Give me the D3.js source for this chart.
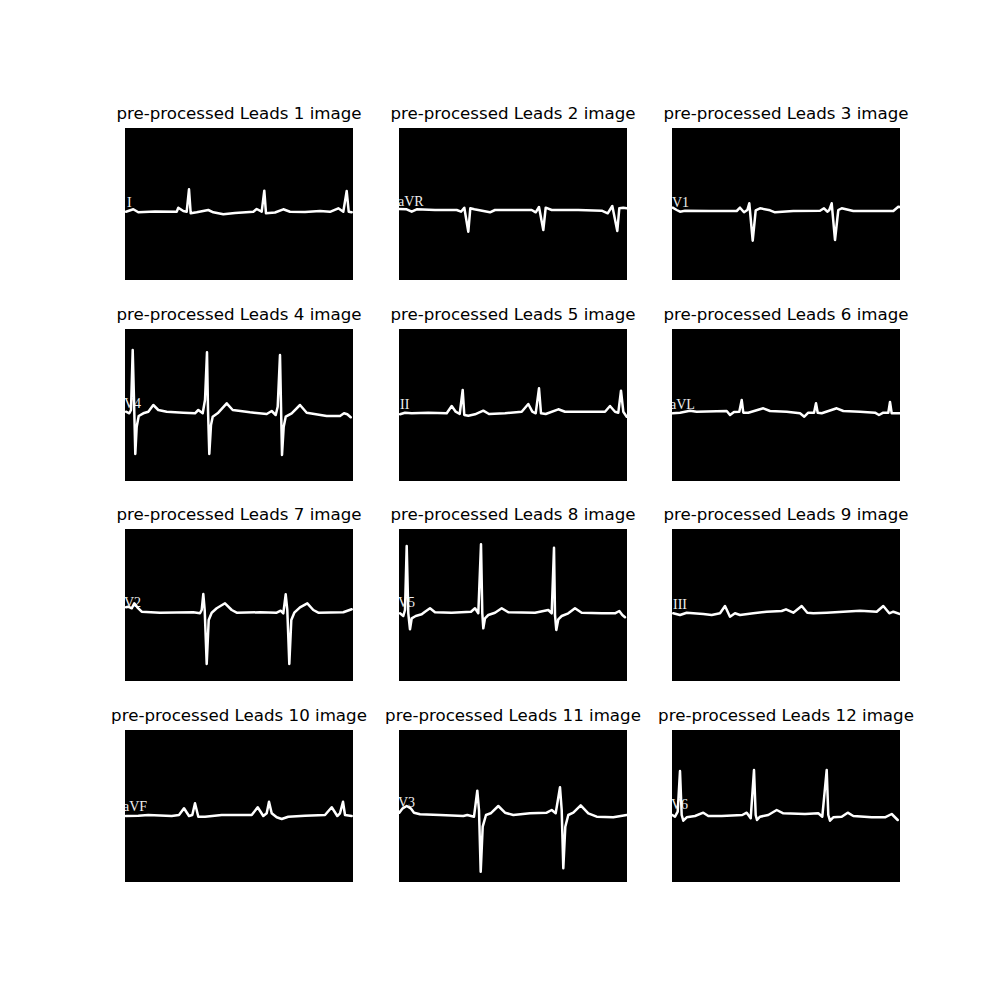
<!DOCTYPE html>
<html>
<head>
<meta charset="utf-8">
<script src="https://cdn.jsdelivr.net/npm/d3@7"></script>
<style>
  html, body { margin: 0; padding: 0; background: #fff; }
  svg { display: block; }
</style>
</head>
<body>
<svg id="chart" width="1000" height="1000"></svg>
<script>
// Panel titles and the lead names printed inside each pre-processed image
const titles = d3.range(1, 13).map(i => `pre-processed Leads ${i} image`);
const leadNames = ["I", "aVR", "V1", "V4", "II", "aVL", "V2", "V5", "III", "aVF", "V3", "V6"];
// label anchor inside each image (image column, image row)
const labelPos = [[2,79],[-1,78],[0,79],[-1,79],[1,80],[-2,80],[-1,78],[-1,78],[1,80],[-2,81],[-1,77],[-1,79]];

// Traced waveforms: [image column, image row] in a 228 x 152 image frame
const lead1 = [[1,83.7],[8.3,81.3],[13.3,84.3],[30,83.5],[51.7,83.7],[53.3,79.7],[58.3,83],[61.7,83.7],[64,61.3],[65.7,85.3],[71.7,84.3],[83.3,82],[88.3,84.3],[98.3,86.3],[110,85],[128.3,83.7],[131.7,81],[136.7,83.7],[139.3,62.7],[141,85.3],[150,84.5],[158.3,81.3],[165,83.7],[180,84],[195,83],[205,83.8],[213.3,80.3],[218.3,83.7],[221.7,63],[223.7,83.7],[226.7,84.3]];
const lead2 = [[0,81],[7.7,81.3],[12.7,83.7],[17.7,81.3],[36,82],[57.7,82],[62,83.7],[65.3,79.7],[69.3,103.7],[71.3,80.3],[75.3,81.3],[91,84.3],[96,82],[132.7,82],[136.7,84.3],[140,79],[144.3,102],[146.7,79.7],[152.7,82],[179.3,82],[202.7,82.7],[208.7,85.3],[213.3,78],[218.3,103],[220.3,80.3],[224.3,79.7],[227.7,80.3]];
const lead3 = [[0.7,79.7],[4.7,82],[8,83.7],[13,82.7],[38,83],[64.7,83],[68,79.7],[72,84.3],[75.3,82],[77.3,75.3],[80.7,112.7],[83.7,82.3],[88,80.3],[98,82.3],[103,84.3],[121.3,83],[148,82.7],[152,80.3],[155.3,83.7],[157.3,82],[159.7,75.3],[163,112],[166.3,82],[169.7,80.3],[181.3,83],[204.7,83],[221.3,83],[226.3,78.7],[228,79]];
const lead4 = [[1,82.7],[4.3,84.3],[6,81],[7.7,21],[9,71],[10.3,125],[11.7,97.7],[13.7,87],[18.3,84.3],[23.3,82.7],[28.3,76],[33.3,81],[41.7,82.7],[58.3,83.7],[70,84.3],[73.3,81],[77.7,84.3],[80,71],[82,23.3],[83,81],[84.3,125],[86,96],[87.7,87.7],[93.3,83.7],[101.7,74.3],[107.7,81],[125,83.3],[141.7,85],[146.7,82],[150.7,86],[152.7,77.7],[155,26],[156.3,91],[157,126],[158.7,97.7],[160.7,87.7],[166.7,84.3],[175,76],[181.7,83.7],[201.7,87],[215,87],[219,84.3],[222.3,85.3],[225.7,88.3]];
const lead5 = [[1,85.3],[6,83.7],[12.7,84.3],[29.3,83.7],[47.7,84.3],[52.7,77],[56.7,82.7],[60.7,85],[63.7,61],[65.3,86],[69.3,86.7],[76,85.3],[84.3,81.7],[90,85],[106,84.3],[122.7,82.7],[129.3,75],[133.3,82.7],[136.7,84.3],[140,59.3],[142,84.3],[146.7,85],[159.3,80.3],[166,82.7],[186,82.7],[206,82.7],[211,77],[216,82.7],[219.3,83.7],[222,61.7],[224.3,82.7],[227.7,87.7]];
const lead6 = [[0.7,84.3],[8,83.7],[18,81.7],[24.7,82.7],[54.7,82],[58,86],[62,83],[67.3,82.7],[69.7,71],[71.3,83.7],[76.3,83.7],[91.3,79.3],[98,82],[114.7,82.7],[128,84.3],[132.3,87.7],[136.3,83.7],[142,83.7],[144,74.3],[145.7,83.7],[149.7,84.3],[164.7,79.3],[171.3,82],[188,82.7],[203,83.7],[207,86],[211.3,83.7],[216.3,83.7],[218,73],[219.7,84.3],[228,84.3]];
const lead7 = [[1,78.3],[3.3,77.7],[6.7,79.3],[9.3,74.3],[12.3,78.3],[16.7,82.7],[35,83.7],[68.3,83.3],[75,84.3],[76.7,81],[78.3,65],[79.7,81],[81.7,135],[83.7,91],[86.7,83.7],[91.7,79.3],[100,74.3],[106.7,81],[111.7,83.7],[135,83.3],[151.7,83.7],[155.7,81.7],[158.3,84.3],[160.7,65.3],[162.3,81],[164.3,135],[166.3,91],[169.3,83.7],[175,78.3],[182.3,74.3],[188.3,81],[193.3,83.7],[218.3,83.3],[226.7,80.3]];
const lead8 = [[1,84.3],[4.3,87],[6,81],[7.7,17],[9.3,84.3],[11,100.3],[12.7,89.3],[16.7,87],[22.7,85.3],[26,82.7],[31,79.3],[36,83.3],[52.7,83.7],[72,82.7],[76,79.3],[79.3,84.3],[82,15.3],[83.3,84.3],[84.3,99.3],[86,89.3],[89.3,86],[96,83.7],[102.7,79.3],[109.3,83.3],[136,83.7],[149.3,81],[152.7,84.3],[155,18.7],[156,86],[157.3,101],[159.3,90.3],[162.7,87],[169.3,84.3],[176,79.3],[182.7,83.7],[202.7,84.3],[216,84.3],[220.3,82],[223.3,86],[226,88.3]];
const lead9 = [[1.3,84.3],[8,86],[14.7,83.7],[21.3,84.3],[31.3,85],[39.7,86],[48,84.3],[53,77],[58,87.7],[63,84.3],[68,86],[81.3,84.3],[94.7,82.7],[109.7,82],[114,80.3],[121.3,83.7],[129.7,77],[135.3,83.7],[141.3,84.3],[154.7,83.7],[171.3,82.7],[188,81.7],[204.7,82.7],[211.3,77],[217.3,84.3],[221.3,82.7],[228,85]];
const lead10 = [[0.7,86],[13.3,85.7],[23.3,85],[46.7,86],[54,85],[59,78.3],[64,86],[67.3,85],[70,73.3],[73.3,86.7],[80,86.7],[96.7,85],[126.7,85],[132.7,77.3],[138.3,86],[141.7,83.3],[144,71.7],[146.7,83.3],[151.7,87.3],[156.7,89],[163.3,86.7],[180,85.7],[200,85],[206.7,77.3],[212.3,86],[215,83.3],[218,71.7],[220,85],[226.7,86]];
const lead11 = [[0.3,82.7],[3.7,78.3],[7.7,76],[11.7,78.3],[15,82.7],[21,84.3],[41,85],[64.3,86],[68.3,85],[75,86.7],[78.3,60.7],[80,80],[81.7,141.7],[83.7,96.7],[87,85],[91.7,83.3],[99.3,76],[106,82.7],[114.3,85],[131,83.3],[147.7,82.7],[152.7,80],[156.7,83.3],[161,57.3],[162.7,80],[164.3,138.3],[166.3,96.7],[169.3,85],[174.3,82.7],[181.7,75.3],[189.3,83.3],[197.7,86.7],[214.3,87.3],[227.7,85]];
const lead12 = [[0.3,85],[3,86.7],[5.7,81.7],[8,41],[9.7,85],[11.3,90.7],[14.7,87.3],[23,86],[31.3,82.7],[36.3,86],[49.7,86],[70.3,85],[74.7,82.7],[78.7,88.3],[82,40],[83.7,85],[85,90],[88,86.7],[96.3,85],[104.7,80],[111.3,83.3],[133,84],[146.3,83.3],[150.3,86.7],[154.7,40],[156.3,85],[158,90.7],[161.3,87.3],[169.7,86.7],[175.7,82.7],[181.3,86],[199.7,87.3],[213,87.3],[219.7,84],[225.7,90]];

const leads = [lead1, lead2, lead3, lead4, lead5, lead6, lead7, lead8, lead9, lead10, lead11, lead12];

// Layout
const colX = [125, 399, 672];
const rowY = [128, 329, 529, 730];
const panelW = 228, panelH = 152;

const svg = d3.select("#chart");
const x = d3.scaleLinear().domain([0, 228]).range([0, panelW]);
const y = d3.scaleLinear().domain([0, 152]).range([0, panelH]);
const line = d3.line().x(d => x(d[0])).y(d => y(d[1])).curve(d3.curveLinear);

leads.forEach((data, i) => {
  const c = i % 3, r = Math.floor(i / 3);
  const g = svg.append("g").attr("transform", `translate(${colX[c]},${rowY[r]})`);

  g.append("defs").append("clipPath").attr("id", `clip${i}`)
    .append("rect").attr("width", panelW).attr("height", panelH);

  g.append("rect").attr("width", panelW).attr("height", panelH).attr("fill", "#000");

  const inner = g.append("g").attr("clip-path", `url(#clip${i})`);
  inner.append("text")
    .attr("x", x(labelPos[i][0])).attr("y", y(labelPos[i][1]))
    .attr("fill", "#eee")
    .attr("font-family", "'Liberation Serif', 'DejaVu Serif', serif")
    .attr("font-size", 14)
    .text(leadNames[i]);

  inner.append("path")
    .datum(data)
    .attr("d", line)
    .attr("fill", "none")
    .attr("stroke", "#fff")
    .attr("stroke-width", 2.5)
    .attr("stroke-linejoin", "round")
    .attr("stroke-linecap", "round");

  g.append("text")
    .attr("x", panelW / 2).attr("y", -9)
    .attr("text-anchor", "middle")
    .attr("font-family", "'DejaVu Sans', sans-serif")
    .attr("font-size", 16.67)
    .attr("fill", "#000")
    .text(titles[i]);
});
</script>
</body>
</html>
